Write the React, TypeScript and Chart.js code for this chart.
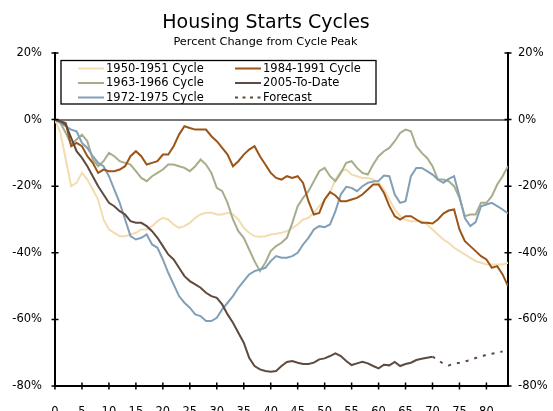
import { useEffect, useRef } from 'react';
import { Chart, registerables } from 'chart.js';

Chart.register(...registerables);
Chart.defaults.font.family = 'DejaVu Sans';

// Months since cycle peak (x axis positions)
const months: number[] = Array.from({ length: 85 }, (_, i) => i);
const xTickStep = 5;
const yTickStep = 20;
const yMin = -80;
const yMax = 20;
const xMax = 84;

const titleText = 'Housing Starts Cycles';
const subtitleText = 'Percent Change from Cycle Peak';
const seriesNames = ['1950-1951 Cycle', '1963-1966 Cycle', '1972-1975 Cycle', '1984-1991 Cycle', '2005-To-Date', 'Forecast'];

const s1950: number[] = [
  0, -4, -12, -20, -19, -16, -18, -21, -24, -30,
  -33, -34, -35, -35, -34.5, -34, -33, -33, -32, -30.5,
  -29.5, -30, -31.5, -32.5, -32, -31, -29.5, -28.5, -28, -28,
  -28.5, -28.5, -28, -28.5, -30, -32.5, -34, -35, -35.2, -35,
  -34.5, -34.3, -34, -33.5, -32.5, -31.5, -30, -29.5, -28, -26,
  -24, -22, -18, -15.5, -15, -16.5, -17, -17.5, -17.5, -18,
  -19, -21, -24, -27, -29, -30, -30.5, -30.5, -30.5, -31.5,
  -33, -34.5, -36, -37, -38.5, -39.5, -40.5, -41.5, -42.5, -43,
  -43.5, -43.5, -43.5, -43.5, -43,
];

const s1963: number[] = [
  0, -1, -4, -7.5, -6, -4.5, -6.5, -12, -14, -12.5,
  -10, -11, -12.5, -13, -13.5, -15.5, -17.5, -18.5, -17, -16,
  -15, -13.5, -13.5, -14, -14.5, -15.5, -14, -12, -13.5, -16,
  -20.5, -21.5, -25, -30, -33.5, -35.5, -39, -42.5, -45.5, -43,
  -39.5, -38, -37, -35.5, -31, -26, -23.5, -21.5, -18.5, -15.5,
  -14.5, -17, -18.5, -16, -13, -12.5, -14.5, -16, -16.5, -13.5,
  -11, -9.5, -8.5, -6.5, -4, -3, -3.5, -8, -10, -11.5,
  -14, -18, -18, -18.5, -20, -23.5, -29, -28.5, -28.5, -25,
  -25, -23, -19.5, -17, -14,
];

const s1972: number[] = [
  0, -1, -2, -3, -3.5, -7, -8.5, -11, -13, -14,
  -17, -21, -25, -30, -35, -36, -35.5, -34.5, -37.5, -38.5,
  -42, -46, -49.5, -53, -55, -56.5, -58.5, -59, -60.5, -60.5,
  -59.5, -57, -55, -53, -50.5, -48.5, -46.5, -45.5, -45, -44.5,
  -42.5, -41, -41.5, -41.5, -41, -40, -37.5, -35.5, -33, -32,
  -32.3, -31.5, -27.5, -22.5, -20.2, -20.5, -21.5, -20, -19, -18.6,
  -18.4, -16.8, -17, -22.5, -25, -24.5, -17, -14.5, -14.5, -15.5,
  -16.5, -18, -19, -17.8, -17, -23, -29.6, -32, -30.8, -26,
  -25.5, -25, -26, -27, -28.2,
];

const s1984: number[] = [
  0, -0.5, -1, -8, -7, -8, -11, -13, -16, -15,
  -15.5, -15.5, -15, -14, -11, -9.5, -11, -13.5, -13, -12.5,
  -10.5, -10.5, -8, -4.5, -2, -2.5, -3, -3, -3, -5,
  -6.5, -8.5, -10.5, -14, -12.5, -10.5, -9, -8, -11, -13.5,
  -16, -17.5, -18, -17, -17.5, -17, -19, -24.5, -28.5, -28,
  -24, -21.8, -22.8, -24.5, -24.5, -24, -23.5, -22.5, -21, -19.5,
  -19.5, -22, -26, -29, -30, -29, -29, -30, -31, -31,
  -31.2, -30, -28.2, -27.3, -27, -33, -36.5, -38, -39.5, -41,
  -42, -44.5, -44, -46.5, -50,
];

const s2005: number[] = [
  0, -0.5, -1.5, -5.5, -9.5, -11.5, -14, -17, -20, -22.5,
  -25, -26, -27.5, -28.5, -30.5, -31, -31, -32, -33.5, -35.5,
  -38, -40.5, -42, -44.5, -47, -48.5, -49.5, -50.5, -52, -53,
  -53.5, -55.5, -58.5, -61, -64, -67, -71.5, -74, -75, -75.5,
  -75.7, -75.5, -74, -72.8, -72.5, -73, -73.4, -73.4, -73, -72,
  -71.7, -71, -70.2, -71, -72.5, -73.7, -73.2, -72.7, -73.2, -74,
  -74.7, -73.6, -73.8, -72.8, -74, -73.4, -73, -72.2, -71.8, -71.5,
  -71.2,
];

const forecastMonths: number[] = [70, 71, 72, 73, 74, 75, 76, 77, 78, 79, 80, 81, 82, 83];
const forecastValues: number[] = [-71.2, -72.2, -73.3, -73.8, -73.3, -73, -72.6, -72.2, -71.6, -71.2, -70.6, -70.3, -70, -69.6];

const colors = ['#f2dcb0', '#a5ae8a', '#819fb6', '#9c5517', '#5e4b3e', '#5e4b3e'];

const toPoints = (xs: number[], ys: number[]) => ys.map((y, i) => ({ x: xs[i], y }));

const titlePlugin = {
  id: 'fixedTitle',
  afterDraw(chart: any) {
    const { ctx } = chart;
    ctx.save();
    ctx.fillStyle = '#000';
    ctx.textAlign = 'center';
    ctx.textBaseline = 'alphabetic';
    ctx.font = '19px "DejaVu Sans"';
    ctx.fillText(titleText, 266, 27.5);
    ctx.font = '11.3px "DejaVu Sans"';
    ctx.fillText(subtitleText, 265.5, 44.5);
    ctx.restore();
  },
};

const legendPlugin = {
  id: 'boxLegend',
  afterDraw(chart: any) {
    const { ctx, chartArea: a } = chart;
    const x0 = a.left + 6;
    const y0 = a.top + 7.5;
    const w = 315;
    const h = 43.5;
    ctx.save();
    ctx.fillStyle = '#fff';
    ctx.fillRect(x0, y0, w, h);
    ctx.strokeStyle = '#000';
    ctx.lineWidth = 1.3;
    ctx.strokeRect(x0, y0, w, h);
    const cols = [17, 174];
    const rows = [8, 22.5, 37];
    ctx.font = '11.5px "DejaVu Sans"';
    ctx.textBaseline = 'middle';
    ctx.textAlign = 'left';
    chart.data.datasets.forEach((ds: any, i: number) => {
      const col = i < 3 ? 0 : 1;
      const row = i % 3;
      const lx = x0 + cols[col];
      const ly = y0 + rows[row];
      ctx.strokeStyle = ds.borderColor;
      ctx.lineWidth = 2;
      ctx.setLineDash(ds.borderDash ? [3, 4.5] : []);
      ctx.beginPath();
      ctx.moveTo(lx, ly);
      ctx.lineTo(lx + 26, ly);
      ctx.stroke();
      ctx.setLineDash([]);
      ctx.fillStyle = '#000';
      ctx.fillText(ds.label, lx + 28, ly + 0.5);
    });
    ctx.restore();
  },
};

const crossTicks = {
  id: 'crossTicks',
  afterDraw(chart: any) {
    const { ctx, chartArea: a, scales } = chart;
    ctx.save();
    ctx.strokeStyle = '#000';
    ctx.lineWidth = 1.5;
    ctx.beginPath();
    for (const t of scales.x.ticks) {
      const px = scales.x.getPixelForValue(t.value);
      ctx.moveTo(px, a.bottom - 3.5);
      ctx.lineTo(px, a.bottom + 3.5);
    }
    for (const t of scales.y.ticks) {
      const py = scales.y.getPixelForValue(t.value);
      ctx.moveTo(a.left - 3.5, py);
      ctx.lineTo(a.left + 3.5, py);
      ctx.moveTo(a.right - 3.5, py);
      ctx.lineTo(a.right + 3.5, py);
    }
    ctx.stroke();
    ctx.restore();
  },
};

export default function App() {
  const ref = useRef<HTMLCanvasElement>(null);

  useEffect(() => {
    if (!ref.current) return;
    const series = [s1950, s1963, s1972, s1984, s2005];
    const datasets: any[] = series.map((s, i) => ({
      label: seriesNames[i],
      data: toPoints(months, s),
      borderColor: colors[i],
      backgroundColor: colors[i],
      borderWidth: 2,
      pointRadius: 0,
      tension: 0,
      fill: false,
      order: 10 - i,
    }));
    datasets.push({
      label: seriesNames[5],
      data: toPoints(forecastMonths, forecastValues),
      borderColor: colors[5],
      backgroundColor: colors[5],
      borderWidth: 2,
      borderDash: [3, 6],
      pointRadius: 0,
      fill: false,
      order: 1,
    });

    const pct = (v: any) => `${v}%`;

    const chart = new Chart(ref.current, {
      type: 'line',
      data: { datasets },
      plugins: [crossTicks, legendPlugin, titlePlugin],
      options: {
        animation: false,
        responsive: true,
        maintainAspectRatio: false,
        layout: { padding: { left: 0, right: 0, top: 53, bottom: 0 } },
        plugins: {
          legend: { display: false },
          tooltip: { enabled: false },
          title: { display: false },
          subtitle: { display: false },
        },
        scales: {
          x: {
            type: 'linear',
            min: 0,
            max: xMax,
            grid: { display: false },
            border: { display: true, color: '#000', width: 2 },
            ticks: {
              stepSize: xTickStep,
              includeBounds: false,
              autoSkip: false,
              maxRotation: 0,
              color: '#000',
              font: { size: 11.5 },
              padding: 11.5,
            },
            afterFit: (s: any) => { s.height = 25; },
          },
          y: {
            type: 'linear',
            position: 'left',
            min: yMin,
            max: yMax,
            grid: {
              drawTicks: false,
              color: (c: any) => (c.tick && c.tick.value === 0 ? '#777' : 'rgba(0,0,0,0)'),
              lineWidth: 2,
            },
            border: { display: true, color: '#000', width: 2 },
            ticks: { stepSize: yTickStep, color: '#000', font: { size: 11.5 }, padding: 13, callback: pct },
            afterFit: (s: any) => { s.width = 55; },
          },
          y2: {
            type: 'linear',
            position: 'right',
            display: true,
            min: yMin,
            max: yMax,
            grid: { display: false, drawTicks: false },
            border: { display: true, color: '#000', width: 2 },
            ticks: { stepSize: yTickStep, color: '#000', font: { size: 11.5 }, padding: 10, callback: pct },
            afterFit: (s: any) => { s.width = 45; },
          },
        },
      } as any,
    });
    return () => chart.destroy();
  }, []);

  return (
    <div style={{ position: 'fixed', left: 0, top: 0, width: 553, height: 411, background: '#fff' }}>
      <canvas ref={ref} style={{ display: 'block' }} />
    </div>
  );
}
